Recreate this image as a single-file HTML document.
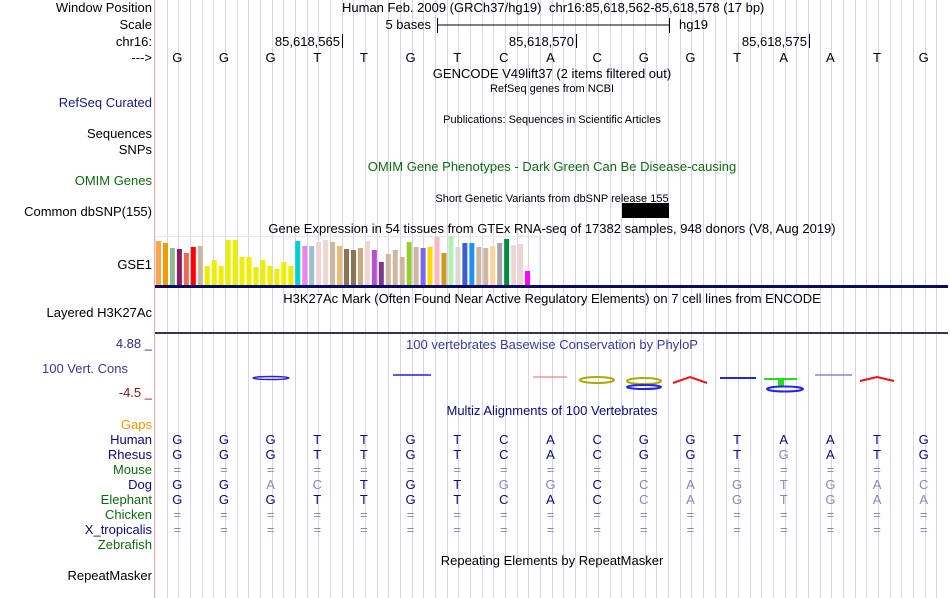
<!DOCTYPE html>
<html><head><meta charset="utf-8"><style>
body{margin:0;background:#fff;}
svg{display:block;font-family:"Liberation Sans",sans-serif;}
</style></head><body>
<svg id="c" width="950" height="598" viewBox="0 0 950 598">
<g id="grid"></g>
<line x1="154.5" y1="0" x2="154.5" y2="598" stroke="#f4a8a8"/>
<g font-size="13" text-anchor="end">
<text x="152" y="12">Window Position</text>
<text x="152" y="29">Scale</text>
<text x="152" y="46">chr16:</text>
<text x="152" y="62">---&gt;</text>
<text x="152" y="107" fill="#1a1a8a">RefSeq Curated</text>
<text x="152" y="138">Sequences</text>
<text x="152" y="154">SNPs</text>
<text x="152" y="185" fill="#0f6a0f">OMIM Genes</text>
<text x="152" y="216">Common dbSNP(155)</text>
<text x="152" y="269">GSE1</text>
<text x="152" y="317">Layered H3K27Ac</text>
<text x="152" y="348" fill="#2a2a8a">4.88 _</text>
<text x="128" y="373" fill="#3a3a9a">100 Vert. Cons</text>
<text x="152" y="397" fill="#7a1a1a">-4.5 _</text>
<text x="152" y="429" fill="#ee9a00">Gaps</text>
<text x="152" y="444" fill="#0a0a7a">Human</text>
<text x="152" y="459" fill="#0a0a7a">Rhesus</text>
<text x="152" y="474" fill="#0f6a0f">Mouse</text>
<text x="152" y="489" fill="#0a0a7a">Dog</text>
<text x="152" y="504" fill="#0f6a0f">Elephant</text>
<text x="152" y="519" fill="#0f6a0f">Chicken</text>
<text x="152" y="534" fill="#0a0a7a">X_tropicalis</text>
<text x="152" y="549" fill="#0f6a0f">Zebrafish</text>
<text x="152" y="580">RepeatMasker</text>
</g>
<g font-size="13" text-anchor="middle">
<text x="342" y="12" text-anchor="start">Human Feb. 2009 (GRCh37/hg19)</text>
<text x="549" y="12" text-anchor="start">chr16:85,618,562-85,618,578 (17 bp)</text>
<text x="431" y="29" text-anchor="end">5 bases</text>
<line x1="437" y1="25" x2="669" y2="25" stroke="#000"/>
<line x1="437.5" y1="18" x2="437.5" y2="33" stroke="#000"/>
<line x1="669.5" y1="18" x2="669.5" y2="33" stroke="#000"/>
<text x="679" y="29" text-anchor="start">hg19</text>
<text x="340" y="46" text-anchor="end">85,618,565</text>
<line x1="342.5" y1="34" x2="342.5" y2="48" stroke="#000"/>
<text x="574" y="46" text-anchor="end">85,618,570</text>
<line x1="576.5" y1="34" x2="576.5" y2="48" stroke="#000"/>
<text x="807" y="46" text-anchor="end">85,618,575</text>
<line x1="809.5" y1="34" x2="809.5" y2="48" stroke="#000"/>
<text x="552" y="78">GENCODE V49lift37 (2 items filtered out)</text>
<text x="552" y="92" font-size="11">RefSeq genes from NCBI</text>
<text x="552" y="123" font-size="11">Publications: Sequences in Scientific Articles</text>
<text x="552" y="171" fill="#0f6a0f">OMIM Gene Phenotypes - Dark Green Can Be Disease-causing</text>
<text x="552" y="202" font-size="11">Short Genetic Variants from dbSNP release 155</text>
<rect x="622" y="203" width="47" height="15" fill="#000"/>
<text x="552" y="233">Gene Expression in 54 tissues from GTEx RNA-seq of 17382 samples, 948 donors (V8, Aug 2019)</text>
<text x="552" y="303">H3K27Ac Mark (Often Found Near Active Regulatory Elements) on 7 cell lines from ENCODE</text>
<text x="552" y="349" fill="#3a3a9a">100 vertebrates Basewise Conservation by PhyloP</text>
<text x="552" y="415" fill="#0a0a7a">Multiz Alignments of 100 Vertebrates</text>
<text x="552" y="565">Repeating Elements by RepeatMasker</text>
</g>
<rect x="155.5" y="236.5" width="384" height="49" fill="none" stroke="#e8e8e8"/>
<g id="gtex"></g>
<rect x="155" y="285" width="793" height="3" fill="#0a0a60"/>
<rect x="155" y="332" width="793" height="2" fill="#333355"/>
<g id="phylop">
<ellipse cx="271" cy="378" rx="18" ry="1.5" fill="none" stroke="#2222dd" stroke-width="1.5"/>
<line x1="393" y1="375" x2="431" y2="375" stroke="#2222dd" stroke-width="1.5"/>
<line x1="533" y1="377" x2="567" y2="377" stroke="#ee6666"/>
<ellipse cx="597" cy="380" rx="17" ry="3" fill="none" stroke="#aaaa00" stroke-width="2"/>
<ellipse cx="644" cy="381" rx="17" ry="3" fill="none" stroke="#aaaa00" stroke-width="2"/>
<ellipse cx="644" cy="387" rx="17" ry="2" fill="none" stroke="#2222ee" stroke-width="2"/>
<path d="M673 383 L690 377 L707 383" fill="none" stroke="#ee1111" stroke-width="2"/>
<line x1="720" y1="378" x2="756" y2="378" stroke="#2222ee" stroke-width="2"/>
<line x1="764" y1="379" x2="797" y2="379" stroke="#22dd22" stroke-width="2"/>
<rect x="778" y="379" width="6" height="7" fill="#22dd22"/>
<ellipse cx="785" cy="389" rx="18" ry="2.5" fill="none" stroke="#2222ee" stroke-width="2"/>
<line x1="815" y1="375" x2="852" y2="375" stroke="#4444cc"/>
<path d="M860 381 L877 377 L894 381" fill="none" stroke="#ee1111" stroke-width="2"/>
</g>
<g id="bases" font-size="13" text-anchor="middle"></g>
</svg>
<script>
const bases = ["G","G","G","T","T","G","T","C","A","C","G","G","T","A","A","T","G"];
const rhesus = ["G","G","G","T","T","G","T","C","A","C","G","G","T","g","A","T","G"];
const dog = ["G","G","a","c","T","G","T","g","g","C","c","a","g","t","g","a","c"];
const elephant = ["G","G","G","T","T","G","T","C","A","C","c","a","g","t","g","a","a"];
const gtexValues = [44,42,37,36,32,38,39,19,25,19,45,45,28,28,18,25,19,16,23,19,44,39,39,43,45,43,39,36,35,37,44,35,23,31,35,28,43,38,37,38,48,32,49,38,42,42,38,37,39,42,46,40,41,14];
const gtexColors = ["#FFA54F","#EE9A00","#8FBC8F","#8B1C62","#EE6A50","#FF0000","#CDB79E","#EEEE00","#EEEE00","#EEEE00","#EEEE00","#EEEE00","#EEEE00","#EEEE00","#EEEE00","#EEEE00","#EEEE00","#EEEE00","#EEEE00","#EEEE00","#00CED1","#EE82EE","#9AC0CD","#EED5D2","#EED5D2","#CDB79E","#EEBB77","#8B7355","#8B7355","#CDAA7D","#EED5D2","#B452CD","#7A378B","#CDB79E","#CDB79E","#CDB79E","#9ACD32","#CDB79E","#7A67EE","#FFD700","#FFB6C1","#CD9B1D","#B4EEB4","#D9D9D9","#3A5FCD","#1E90FF","#CDB79E","#CDB79E","#FFD39B","#A6A6A6","#008B45","#EED5D2","#EED5D2","#FF00FF"];
const NS="http://www.w3.org/2000/svg";
const x0=155, x1=948, bw=(x1-x0)/bases.length;
const bx=i=>x0+bw*(i+0.5)-1;
const grid=document.getElementById('grid');
for(let k=1;k<bases.length*4;k++){
  const l=document.createElementNS(NS,'line');
  const x=Math.round(x0+k*bw/4)+0.5;
  l.setAttribute('x1',x);l.setAttribute('x2',x);l.setAttribute('y1',0);l.setAttribute('y2',598);
  l.setAttribute('stroke','#d4d4f6');
  
  
  grid.appendChild(l);
}
const g=document.getElementById('bases');
function row(arr,y,name){
  arr.forEach((b,i)=>{
    const t=document.createElementNS(NS,'text');
    t.setAttribute('x',bx(i));t.setAttribute('y',y);
    const lower=b===b.toLowerCase()&&b!=='=';
    t.setAttribute('fill',name==='dna-base'?'#000':(lower||b==='='?'#8888b8':'#0a0a7a'));
    t.textContent=b.toUpperCase();
    
    
    g.appendChild(t);
  });
}
row(bases,62,'dna-base');
row(bases,444,'human-base');
row(rhesus,459,'rhesus-base');
row(bases.map(()=>'='),474,'mouse-base');
row(dog,489,'dog-base');
row(elephant,504,'elephant-base');
row(bases.map(()=>'='),519,'chicken-base');
row(bases.map(()=>'='),534,'xtropicalis-base');
const gt=document.getElementById('gtex');
const base=285, step=376/gtexValues.length;
gtexValues.forEach((v,i)=>{
  const r=document.createElementNS(NS,'rect');
  r.setAttribute('x',156+i*step);r.setAttribute('width',5);
  r.setAttribute('y',base-v);r.setAttribute('height',v);
  r.setAttribute('fill',gtexColors[i]);
  
  
  gt.appendChild(r);
});
</script>
</body></html>
